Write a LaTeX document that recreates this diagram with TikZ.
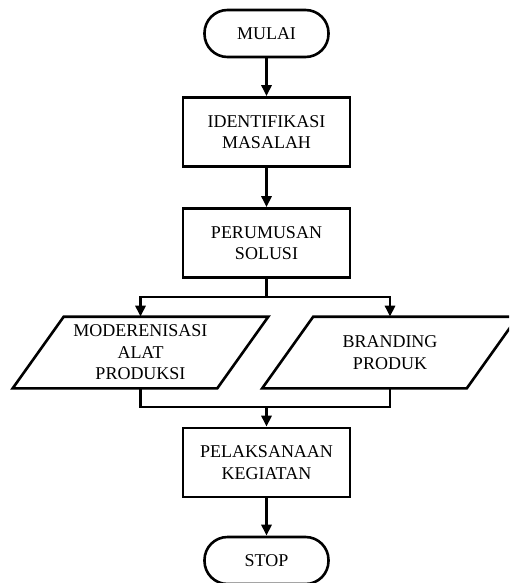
\documentclass[tikz,border=0pt]{standalone}
\usepackage{fontspec}
\setmainfont{Liberation Serif}
\usetikzlibrary{arrows.meta,calc}
\begin{document}
\begin{tikzpicture}[x=1pt,y=-1pt,
  line width=2.6pt,
  every node/.style={font=\fontsize{18}{21.5}\selectfont, align=center, inner sep=0pt},
  term/.style={draw, rounded corners=23pt, minimum width=124pt, minimum height=47pt},
  procbox/.style={draw, minimum width=167pt, minimum height=69pt},
  iobox/.style={minimum width=202pt, minimum height=69pt},
  arr/.style={-{Triangle[length=11pt,width=10pt]}, line width=2.6pt}
]
\clip (0,0) rectangle (509,583);
\useasboundingbox (0,0) rectangle (509,583);

\node[term] (mulai) at (266.5,33.5) {MULAI};
\node[procbox] (ident) at (266.5,132) {IDENTIFIKASI\\MASALAH};
\node[procbox] (rumus) at (266.5,243) {PERUMUSAN\\SOLUSI};
\node[iobox] (moder) at (140.5,352.5) {MODERENISASI\\ALAT\\PRODUKSI};
\node[iobox] (brand) at (390,352.5) {BRANDING\\PRODUK};
\node[procbox] (laksana) at (266.5,462.5) {PELAKSANAAN\\KEGIATAN};
\node[term] (stop) at (266.5,560.5) {STOP};

% parallelograms
\foreach \n in {moder,brand}{
  \draw[line join=miter]
    ($(\n.north west)+(25.5,0)$) -- ($(\n.north east)+(25.5,0)$) --
    ($(\n.south east)-(25.5,0)$) -- ($(\n.south west)-(25.5,0)$) -- cycle;
}

\coordinate (split) at (266.5,297);
\coordinate (join) at (266.5,407);

\draw[arr] (mulai) -- (ident);
\draw[arr] (ident) -- (rumus);
\draw (rumus) -- (split);
\draw[arr] (split) -| (moder.north);
\draw[arr] (split) -| (brand.north);
\draw (moder.south) |- (join);
\draw (brand.south) |- (join);
\draw[arr] (join) -- (laksana);
\draw[arr] (laksana) -- (stop);
\end{tikzpicture}
\end{document}
